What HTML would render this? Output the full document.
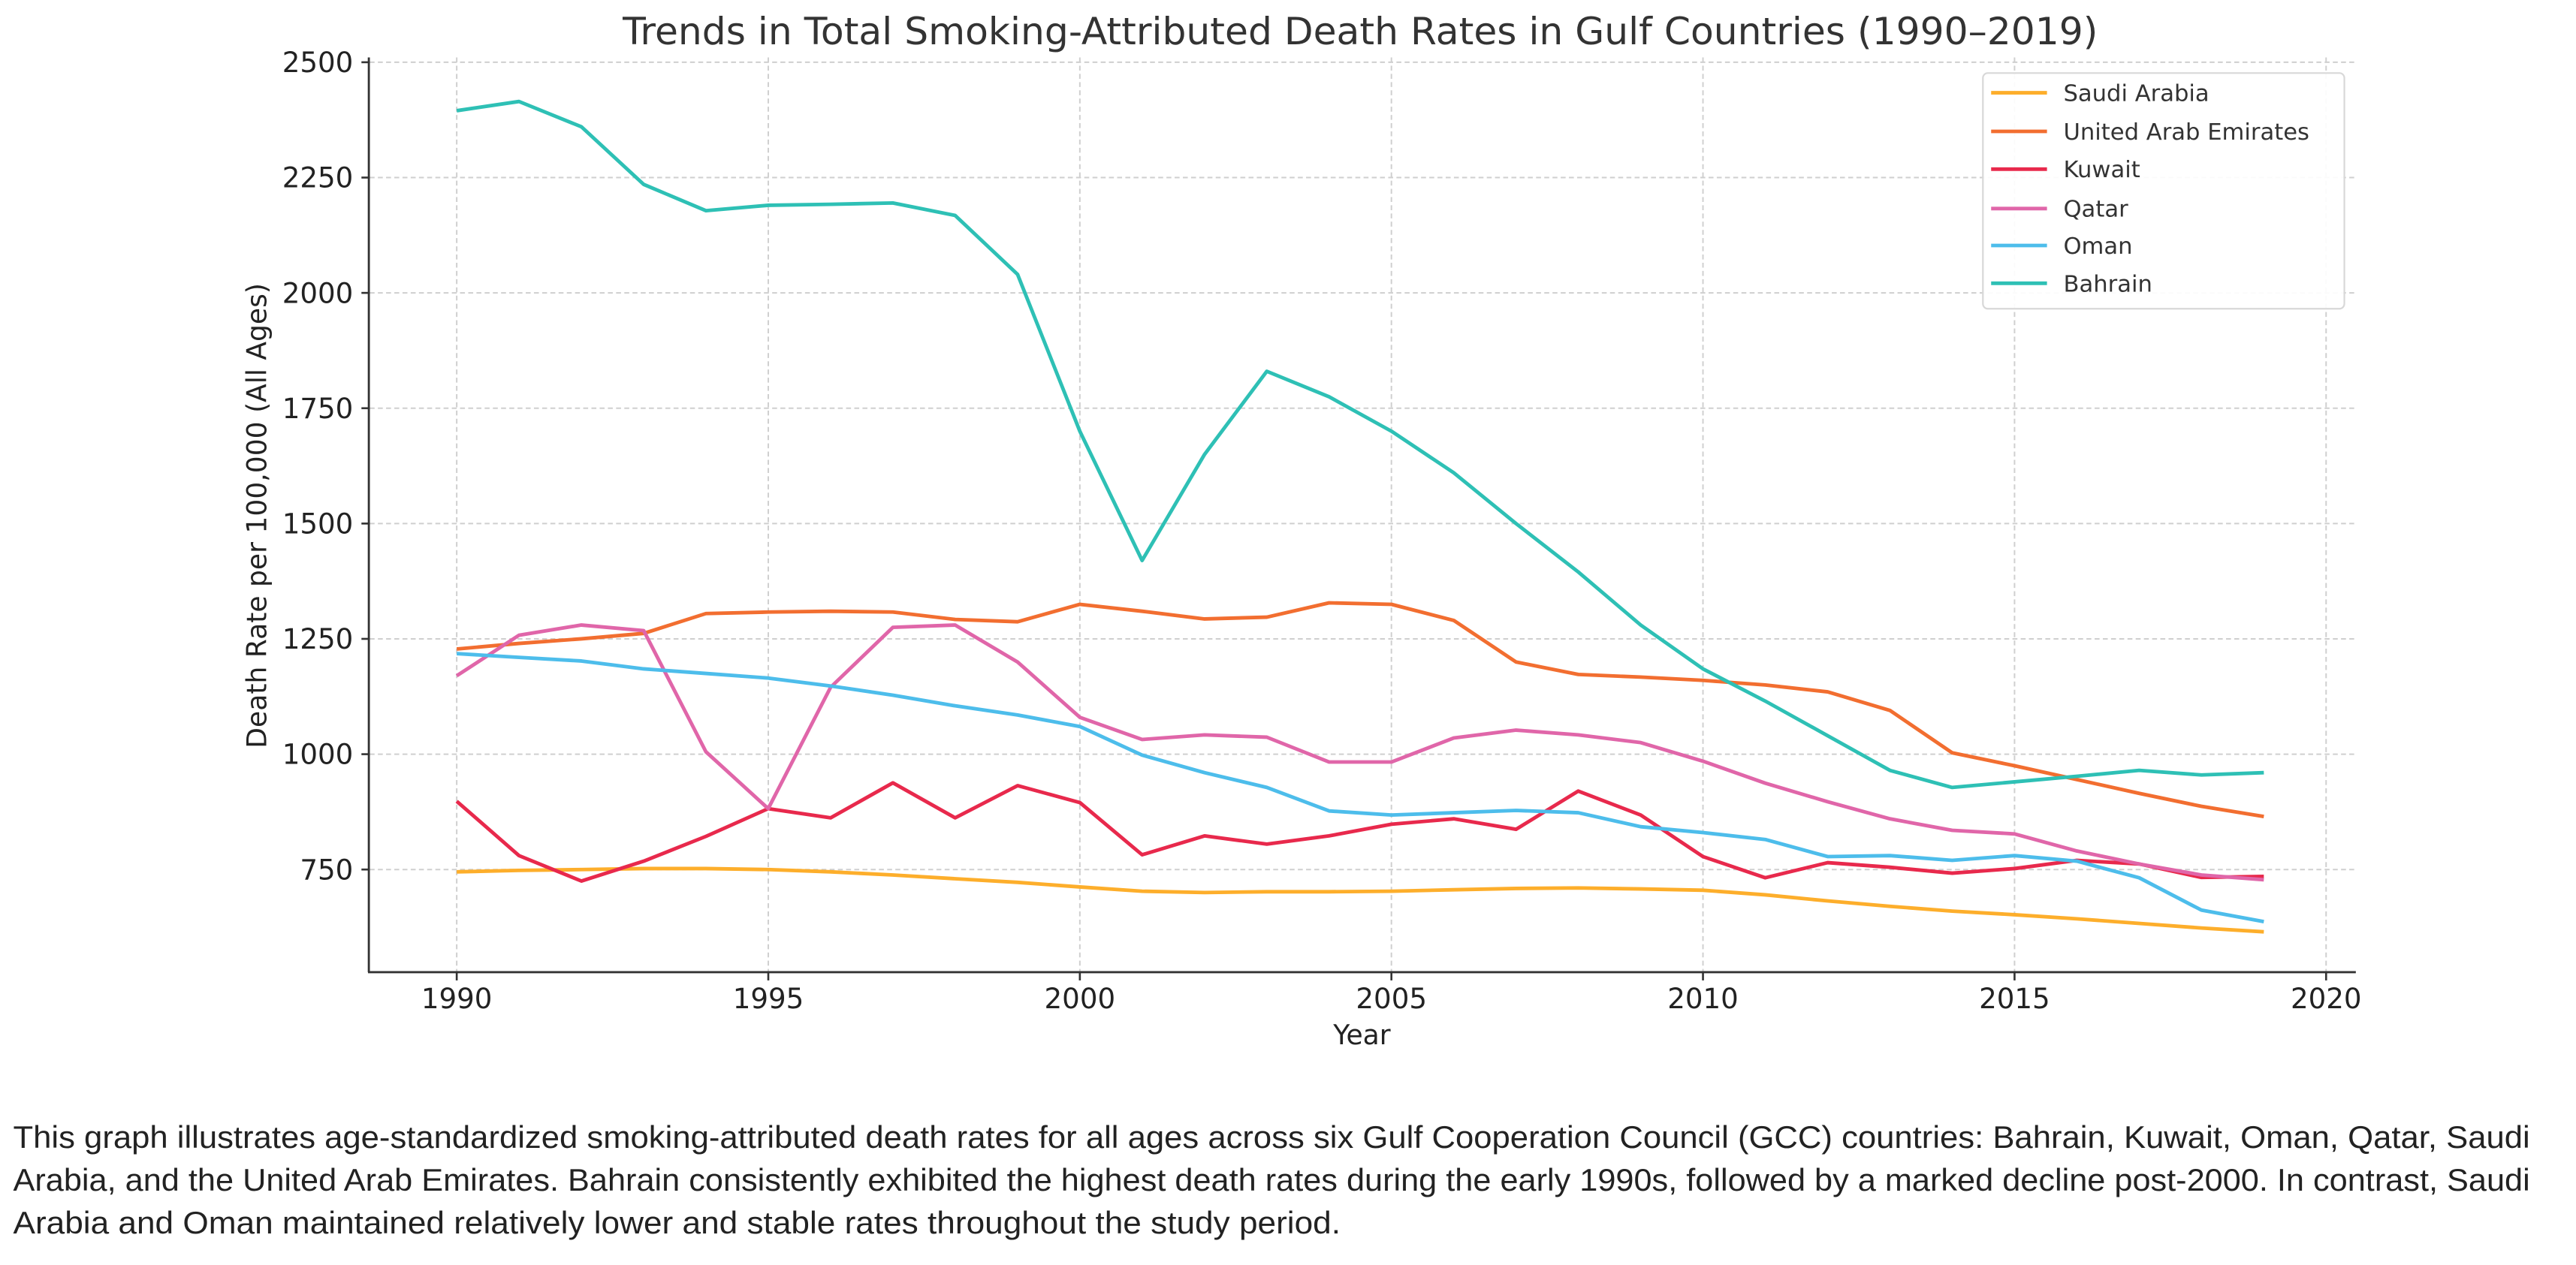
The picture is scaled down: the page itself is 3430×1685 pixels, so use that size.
<!DOCTYPE html>
<html><head><meta charset="utf-8"><style>
html,body{margin:0;padding:0;background:#fff;width:3430px;height:1685px;overflow:hidden}
svg{display:block}
</style></head><body>
<svg id="s" width="3430" height="1685" viewBox="0 0 1568 770.3" xmlns="http://www.w3.org/2000/svg" font-family="DejaVu Sans, Liberation Sans, sans-serif">
<rect width="1568" height="771" fill="#fff"/>
<text x="828" y="27" font-size="23" fill="#333" text-anchor="middle">Trends in Total Smoking-Attributed Death Rates in Gulf Countries (1990–2019)</text>
<g id="grid"></g>
<g id="lines" fill="none" stroke-width="2.2" stroke-linejoin="round"></g>
<line x1="224.5" y1="35" x2="224.5" y2="592" stroke="#333" stroke-width="1.3"/>
<line x1="224" y1="592" x2="1434" y2="592" stroke="#333" stroke-width="1.3"/>
<g id="ticks" font-size="17" fill="#222"></g>
<text x="829" y="636" font-size="16.5" fill="#222" text-anchor="middle">Year</text>
<text transform="translate(162,314) rotate(-90)" font-size="16.5" fill="#222" text-anchor="middle">Death Rate per 100,000 (All Ages)</text>
<g>
<rect x="1207" y="44.5" width="220" height="143.5" rx="3" fill="#fff" fill-opacity="0.9" stroke="#d8d8d8" stroke-width="1"/>
<g stroke-width="2.2">
<line x1="1212" y1="56.5" x2="1246" y2="56.5" stroke="#FDAE2B"/>
<line x1="1212" y1="80" x2="1246" y2="80" stroke="#F26E30"/>
<line x1="1212" y1="103" x2="1246" y2="103" stroke="#E8294C"/>
<line x1="1212" y1="127" x2="1246" y2="127" stroke="#E066A9"/>
<line x1="1212" y1="149.5" x2="1246" y2="149.5" stroke="#4DBDEB"/>
<line x1="1212" y1="172.5" x2="1246" y2="172.5" stroke="#2EC0B5"/>
</g>
<g font-size="14" fill="#333">
<text x="1256" y="61.5">Saudi Arabia</text>
<text x="1256" y="85">United Arab Emirates</text>
<text x="1256" y="108">Kuwait</text>
<text x="1256" y="132">Qatar</text>
<text x="1256" y="154.5">Oman</text>
<text x="1256" y="177.5">Bahrain</text>
</g>
</g>
<g font-family="Liberation Sans, DejaVu Sans, sans-serif" font-size="19" fill="#222" lengthAdjust="spacingAndGlyphs">
<text x="8" y="699" textLength="1532" lengthAdjust="spacingAndGlyphs">This graph illustrates age-standardized smoking-attributed death rates for all ages across six Gulf Cooperation Council (GCC) countries: Bahrain, Kuwait, Oman, Qatar, Saudi</text>
<text x="8" y="725" textLength="1532" lengthAdjust="spacingAndGlyphs">Arabia, and the United Arab Emirates. Bahrain consistently exhibited the highest death rates during the early 1990s, followed by a marked decline post-2000. In contrast, Saudi</text>
<text x="8" y="751" textLength="808" lengthAdjust="spacingAndGlyphs">Arabia and Oman maintained relatively lower and stable rates throughout the study period.</text>
</g>
</svg>
<script>
var NS="http://www.w3.org/2000/svg";
function X(y){return 278+(y-1990)*37.93;}
function Y(v){return 37.9+(2500-v)*0.2809;}
function el(t,a,p,txt){var e=document.createElementNS(NS,t);for(var k in a)e.setAttribute(k,a[k]);if(txt!==undefined)e.textContent=txt;p.appendChild(e);return e;}
var g=document.getElementById('grid'),tk=document.getElementById('ticks'),L=document.getElementById('lines');
for(var v=750;v<=2500;v+=250){var y=Y(v);el('line',{x1:225,x2:1434,y1:y,y2:y,stroke:'#cfcfcf','stroke-width':0.9,'stroke-dasharray':'3,2'},g);
el('line',{x1:220,x2:224.5,y1:y,y2:y,stroke:'#333','stroke-width':1.2},tk);
el('text',{x:215,y:y+6,'text-anchor':'end'},tk,String(v));}
for(var yr=1990;yr<=2020;yr+=5){var x=X(yr);el('line',{x1:x,x2:x,y1:35,y2:592,stroke:'#cfcfcf','stroke-width':0.9,'stroke-dasharray':'3,2'},g);
el('line',{x1:x,x2:x,y1:592,y2:597,stroke:'#333','stroke-width':1.2},tk);
el('text',{x:x,y:614,'text-anchor':'middle'},tk,String(yr));}
var D=[
['#FDAE2B',[745,748,750,752,752,750,745,738,730,722,712,703,700,702,702,703,706,709,710,708,705,695,682,670,660,652,643,633,623,615]],
['#F26E30',[1228,1240,1250,1262,1305,1308,1310,1308,1292,1287,1325,1310,1293,1297,1328,1325,1290,1200,1173,1167,1160,1150,1135,1095,1003,975,945,915,887,865]],
['#E8294C',[898,780,725,768,822,882,862,938,862,932,895,782,823,805,823,848,860,837,920,868,778,732,765,755,742,752,770,762,733,735]],
['#E066A9',[1170,1258,1280,1268,1005,882,1145,1275,1280,1200,1080,1032,1042,1037,983,983,1035,1052,1042,1025,985,937,897,860,835,827,790,762,738,728]],
['#4DBDEB',[1218,1210,1202,1185,1175,1165,1148,1128,1105,1085,1060,998,960,928,877,868,873,878,873,843,830,815,778,780,770,780,768,732,662,637]],
['#2EC0B5',[2395,2415,2360,2235,2178,2190,2192,2195,2168,2040,1700,1420,1650,1830,1775,1700,1610,1500,1395,1280,1185,1115,1040,965,928,940,952,965,955,960]]
];
D.forEach(function(s){var p=s[1].map(function(v,i){return X(1990+i).toFixed(1)+','+Y(v).toFixed(1);}).join(' ');el('polyline',{points:p,stroke:s[0]},L);});
</script>
</body></html>
